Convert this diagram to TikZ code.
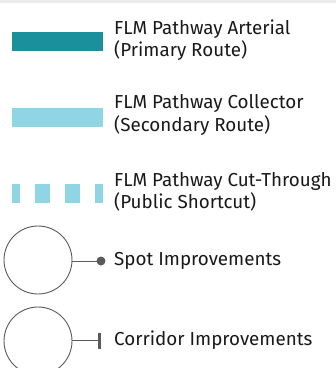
\documentclass[tikz,border=0pt]{standalone}
\usepackage{fontspec}
\setmainfont{Fira Sans}
\usepackage{tikz}
\definecolor{arterial}{HTML}{1A909C}
\definecolor{collector}{HTML}{90D5E4}
\definecolor{band}{HTML}{EBEDED}
\definecolor{linegray}{HTML}{5A5A5A}
\tikzset{
  legendtext/.style={anchor=west, align=left, inner sep=1pt, text=black!90,
    font=\fontsize{18.8}{22.5}\selectfont},
  legendbar/.style={line width=19pt},
  markcircle/.style={draw=linegray, line width=0.9pt, circle, minimum size=68pt, inner sep=0pt},
}

\begin{document}
\begin{tikzpicture}[x=1pt,y=1pt]
                  % Flip the canvas so (0,0) is at the top left, units in pixels
                  \begin{scope}[yscale=-1]
                      \useasboundingbox (0,0) rectangle (336,368);
                      \clip (0,0) rectangle (336,368);
                      % Light gray band along the top edge
                      \fill[band] (0,0) rectangle (336,3);

                      % Arterial pathway: solid dark teal bar
                      \coordinate (artL) at (12,41);
                      \coordinate (artR) at (103,41);
                      \draw[legendbar, arterial] (artL) -- (artR);
                      \node[legendtext] (arterial) at (113,40) {FLM Pathway Arterial\\(Primary Route)};

                      % Collector pathway: solid light blue bar
                      \coordinate (colL) at (12,117);
                      \coordinate (colR) at (103,117);
                      \draw[legendbar, collector] (colL) -- (colR);
                      \node[legendtext] (collector) at (113,115) {FLM Pathway Collector\\(Secondary Route)};

                      % Cut-through pathway: dashed light blue bar
                      \coordinate (cutL) at (12,193.5);
                      \coordinate (cutR) at (103,193.5);
                      \draw[legendbar, collector, dash pattern=on 15pt off 15pt, dash phase=7pt] (cutL) -- (cutR);
                      \node[legendtext] (cutthrough) at (113,192) {FLM Pathway Cut-Through\\(Public Shortcut)};

                      % Spot improvements: circle with a dot callout
                      \node[markcircle] (spotcircle) at (38,260) {};
                      \coordinate (spotend) at (101,261);
                      \draw[linegray, line width=1pt] (spotcircle.east |- spotend) -- (spotend);
                      \fill[linegray] (spotend) circle (4.5);
                      \node[legendtext] (spot) at (113,261) {Spot Improvements};

                      % Corridor improvements: circle with a bar callout
                      \node[markcircle] (corridorcircle) at (38,341) {};
                      \coordinate (corrend) at (100,340.5);
                      \draw[linegray, line width=1pt] (corridorcircle.east |- corrend) -- (corrend);
                      \draw[linegray, line width=3pt] ([yshift=-8]corrend) -- ([yshift=8]corrend);
                      \node[legendtext] (corridor) at (113,340) {Corridor Improvements};
                  \end{scope}
              \end{tikzpicture}
\end{document}
